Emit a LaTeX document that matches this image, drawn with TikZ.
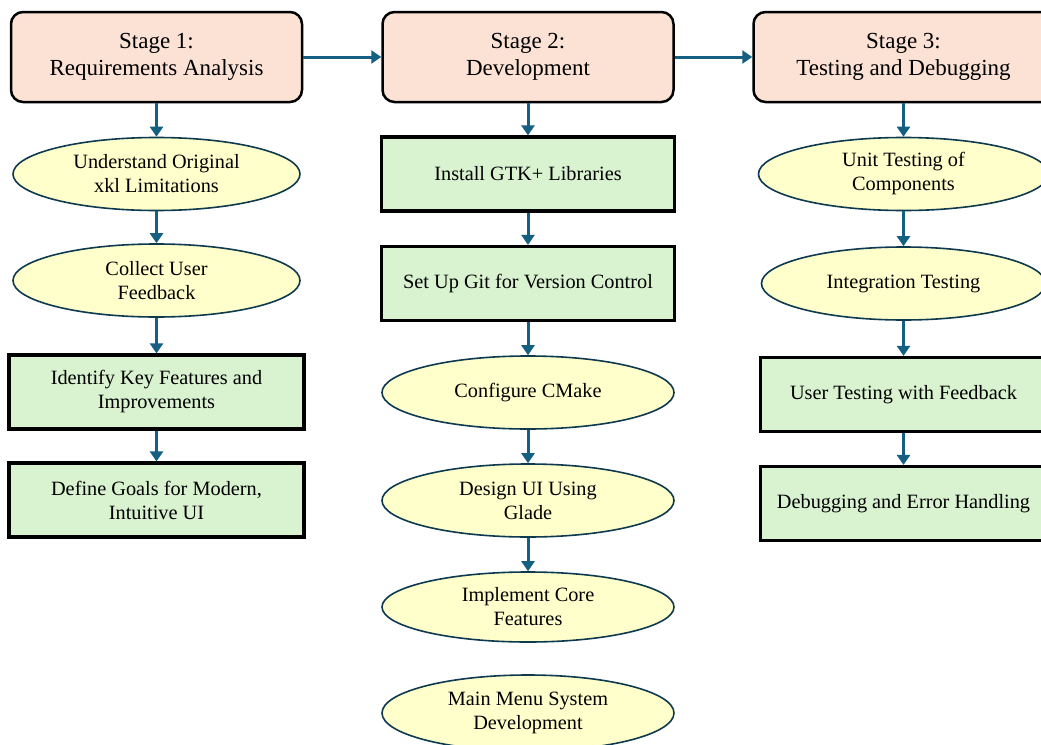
\documentclass[tikz,border=0pt]{standalone}
\usepackage{fontspec}
\setmainfont{Liberation Serif}
\usetikzlibrary{arrows.meta,shapes.geometric}

\definecolor{saumon}{HTML}{FBE2D5}
\definecolor{vertpale}{HTML}{D9F2D0}
\definecolor{jaunepale}{HTML}{FFFFCC}
\definecolor{bleufleche}{HTML}{156082}
\definecolor{bordovale}{HTML}{0E3A4F}

\tikzset{etape/.style = {rectangle, draw, rounded corners=12, line width=2.5, fill=saumon,
                         minimum width=#1, minimum height=90, align=center,
                         font=\fontsize{23}{27}\selectfont},
         etape/.default=291,
         ovale/.style = {ellipse, draw=bordovale, line width=1.6, fill=jaunepale,
                         minimum width=#1, minimum height=73, inner sep=0pt, align=center,
                         font=\fontsize{20.3}{24}\selectfont},
         ovale/.default=288,
         boite/.style = {rectangle, draw, line width=3.2, fill=vertpale,
                         minimum width=#1, minimum height=74, align=center,
                         font=\fontsize{20.3}{24}\selectfont},
         boite/.default=293,
         fleche/.style = {draw=bleufleche, line width=3, -{Triangle[length=10,width=13]}}
        }

\begin{document}
\begin{tikzpicture}[x=1pt, y=-1pt]
  \clip (0,0) rectangle (1041,744);
  \fill[white] (0,0) rectangle (1041,744);
  % les trois etapes
  \node[etape] (e1) at (156.5,57) {Stage 1:\\Requirements Analysis};
  \node[etape] (e2) at (528,57) {Stage 2:\\Development};
  \node[etape=300] (e3) at (903.5,57) {Stage 3:\\Testing and Debugging};
  % colonne 1
  \node[ovale=287] (r1) at (156.5,174) {Understand Original\\xkl Limitations};
  \node[ovale=287] (r2) at (156.5,280.5) {Collect User\\Feedback};
  \node[boite=295] (r3) at (156.5,392) {Identify Key Features and\\Improvements};
  \node[boite=295] (r4) at (156.5,500) {Define Goals for Modern,\\Intuitive UI};
  % colonne 2
  \node[boite] (d1) at (528,174) {Install GTK+ Libraries};
  \node[boite] (d2) at (528,283.5) {Set Up Git for Version Control};
  \node[ovale=292] (d3) at (528,392.5) {Configure CMake};
  \node[ovale=292] (d4) at (528,500.5) {Design UI Using\\Glade};
  \node[ovale=292, minimum height=70] (d5) at (528,607) {Implement Core\\Features};
  \node[ovale=292, minimum height=76] (d6) at (528,713) {Main Menu System\\Development};
  % colonne 3
  \node[ovale=290] (t1) at (903.5,174) {Unit Testing of\\Components};
  \node[ovale=284] (t2) at (903.5,283.5) {Integration Testing};
  \node[boite=286] (t3) at (903.5,394.5) {User Testing with Feedback};
  \node[boite=286] (t4) at (903.5,503.5) {Debugging and Error Handling};
  % fleches
  \draw[fleche] (e1) -- (e2);
  \draw[fleche] (e2) -- (e3);
  \draw[fleche] (e1) -- (r1);
  \draw[fleche] (r1) -- (r2);
  \draw[fleche] (r2) -- (r3);
  \draw[fleche] (r3) -- (r4);
  \draw[fleche] (e2) -- (d1);
  \draw[fleche] (d1) -- (d2);
  \draw[fleche] (d2) -- (d3);
  \draw[fleche] (d3) -- (d4);
  \draw[fleche] (d4) -- (d5);
  \draw[fleche] (e3) -- (t1);
  \draw[fleche] (t1) -- (t2);
  \draw[fleche] (t2) -- (t3);
  \draw[fleche] (t3) -- (t4);
\end{tikzpicture}
\end{document}
